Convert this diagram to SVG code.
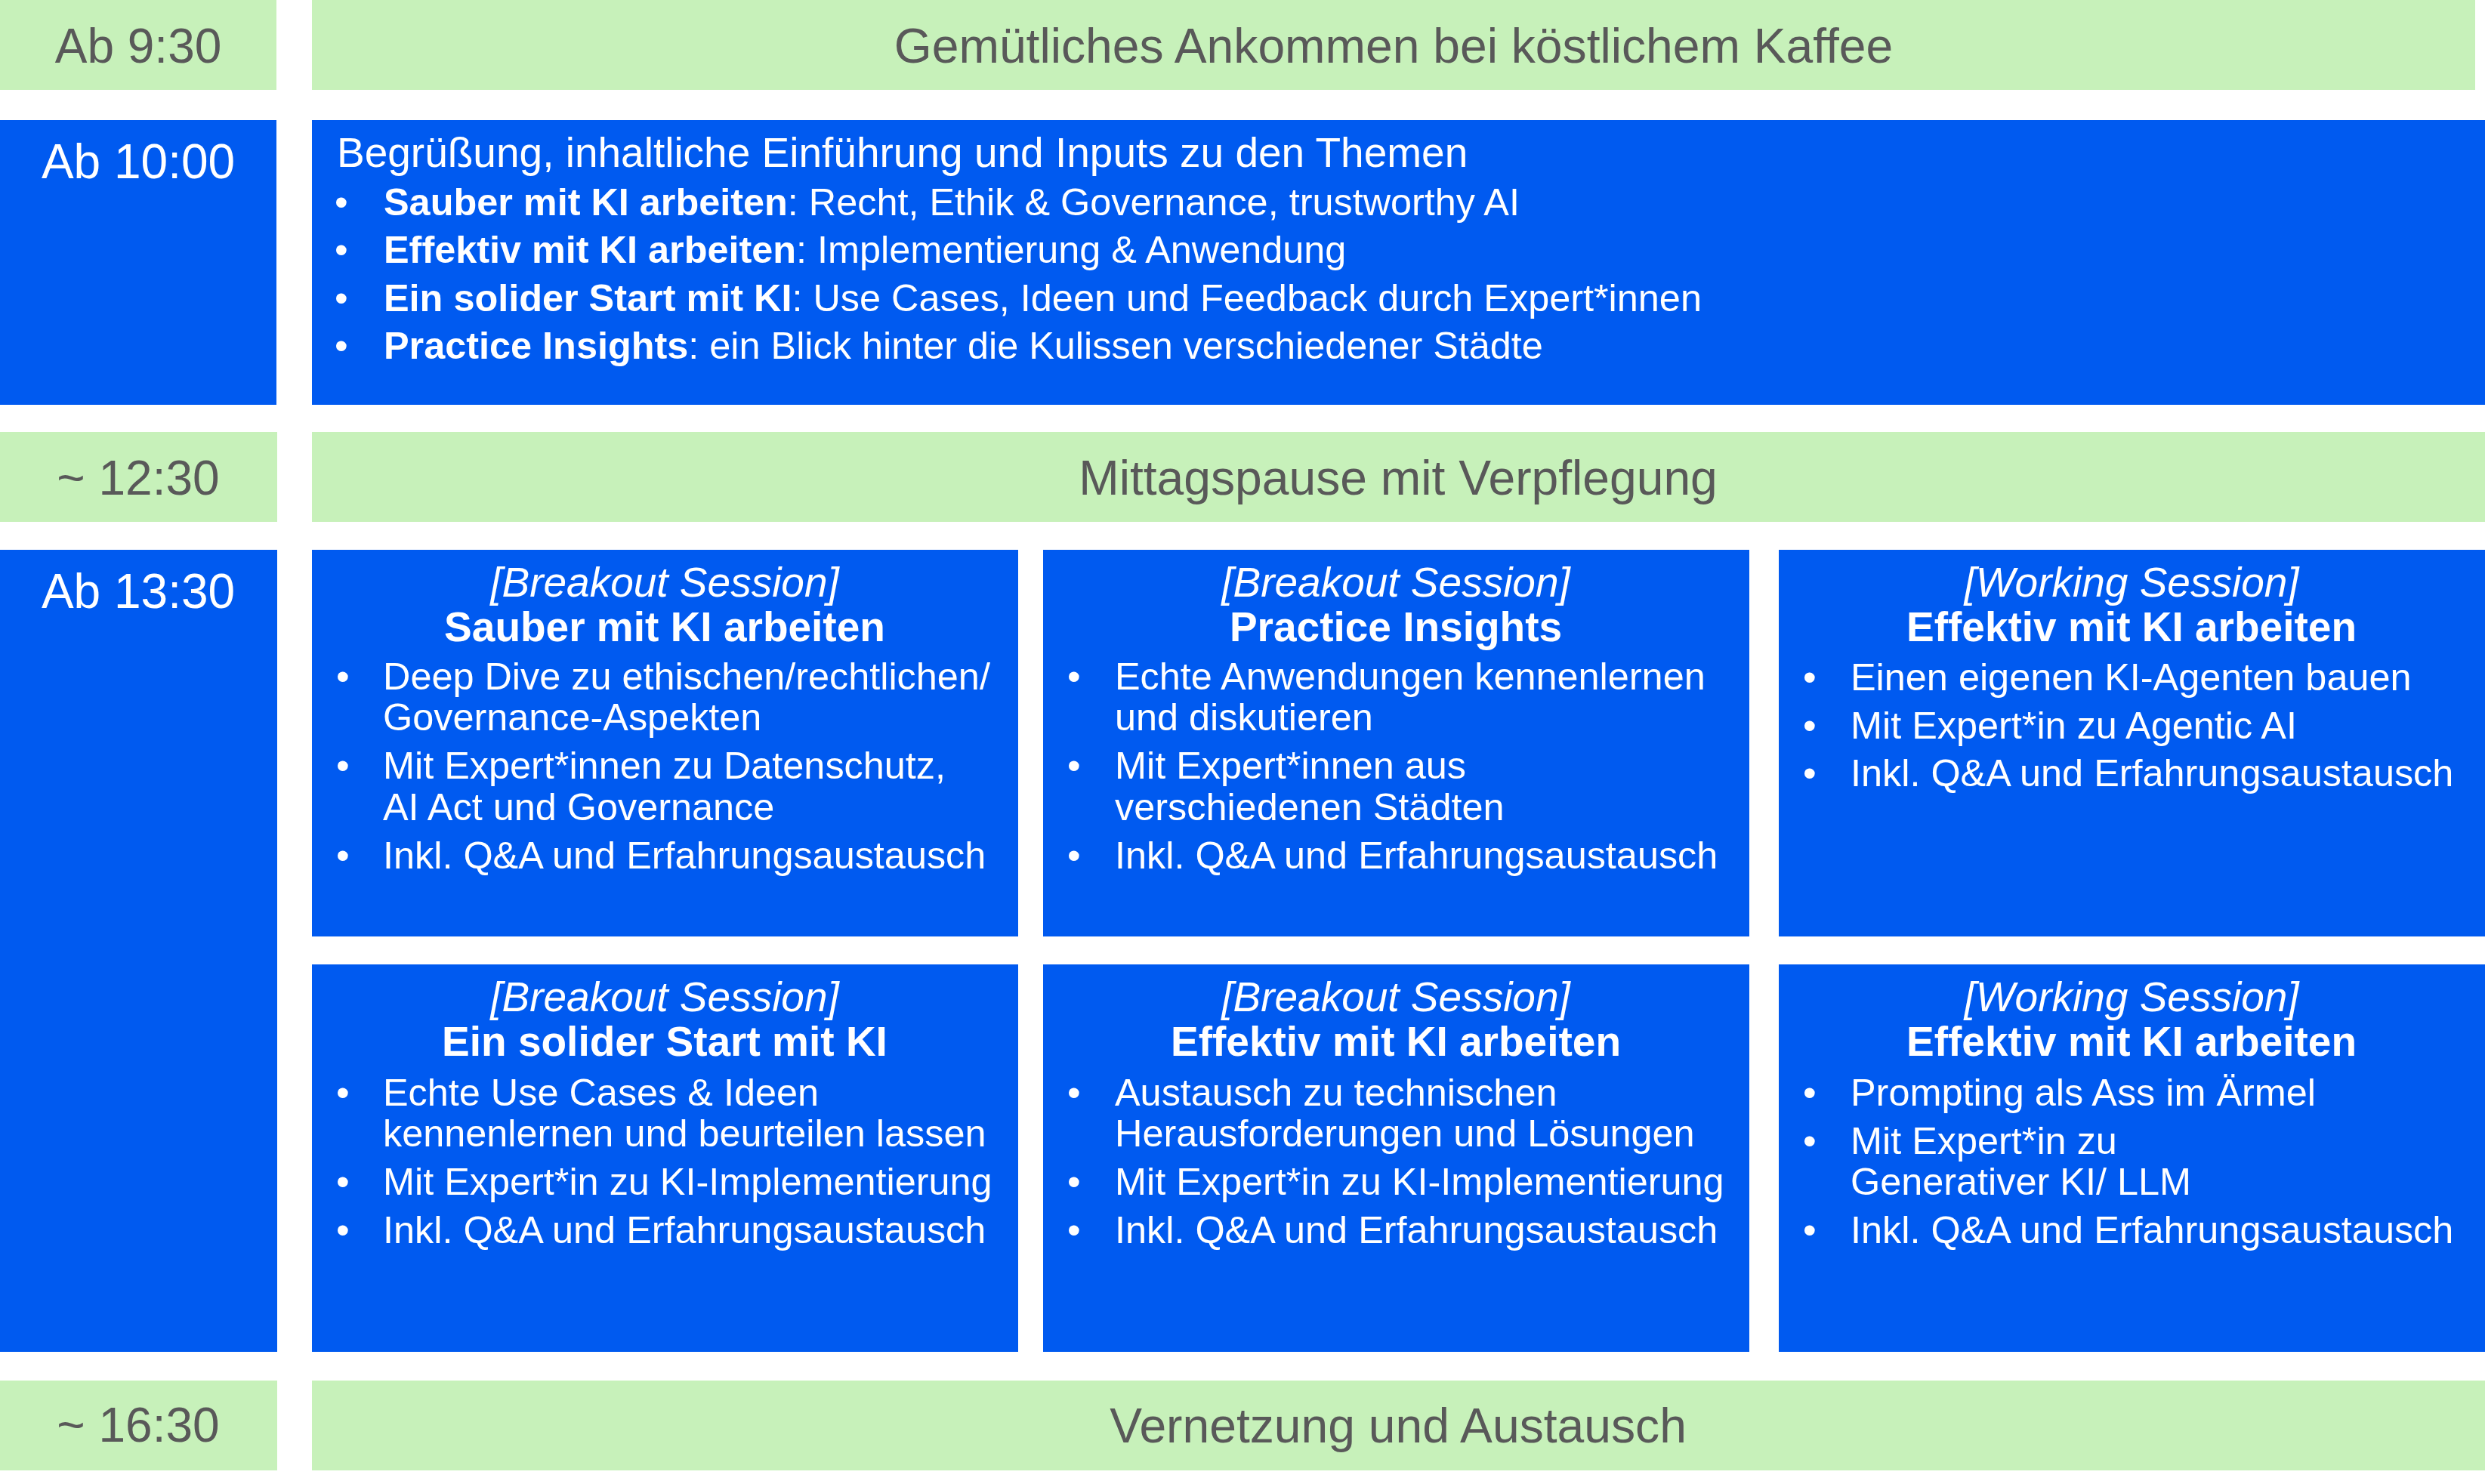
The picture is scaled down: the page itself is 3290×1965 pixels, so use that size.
<svg xmlns="http://www.w3.org/2000/svg" width="3290" height="1965" viewBox="0 0 3290 1965">
<style>
  text { font-family: "Liberation Sans", Arial, sans-serif; }
  .g { fill: #C7F1BA; }
  .b { fill: #005AF0; }
  .time-g { font-size: 64px; fill: #595959; text-anchor: middle; }
  .time-b { font-size: 64px; fill: #FFFFFF; text-anchor: middle; }
  .head-g { font-size: 64.2px; fill: #595959; text-anchor: middle; }
  .intro { font-size: 55px; fill: #FFFFFF; }
  .txt { font-size: 50.4px; fill: #FFFFFF; }
  .bold { font-weight: bold; }
  .kind { font-size: 55px; font-style: italic; fill: #FFFFFF; text-anchor: middle; }
  .title { font-size: 55px; font-weight: bold; fill: #FFFFFF; text-anchor: middle; }
</style>
<rect width="3290" height="1965" fill="#FFFFFF"/>

<g id="row-0930">
  <rect class="g" x="0" y="0" width="366" height="119"/>
  <text class="time-g" x="183" y="83">Ab 9:30</text>
  <rect class="g" x="413" y="0" width="2864" height="119"/>
  <text class="head-g" x="1845" y="83">Gemütliches Ankommen bei köstlichem Kaffee</text>
</g>

<g id="row-1000">
  <rect class="b" x="0" y="159" width="366" height="377"/>
  <text class="time-b" x="183" y="236">Ab 10:00</text>
  <rect class="b" x="413" y="159" width="2877" height="377"/>
  <text class="intro" x="446" y="221">Begrüßung, inhaltliche Einführung und Inputs zu den Themen</text>
  <text class="txt" x="443" y="285">•</text>
  <text class="txt" x="508" y="285"><tspan class="bold">Sauber mit KI arbeiten</tspan>: Recht, Ethik &amp; Governance, trustworthy AI</text>
  <text class="txt" x="443" y="348">•</text>
  <text class="txt" x="508" y="348"><tspan class="bold">Effektiv mit KI arbeiten</tspan>: Implementierung &amp; Anwendung</text>
  <text class="txt" x="443" y="412">•</text>
  <text class="txt" x="508" y="412"><tspan class="bold">Ein solider Start mit KI</tspan>: Use Cases, Ideen und Feedback durch Expert*innen</text>
  <text class="txt" x="443" y="475">•</text>
  <text class="txt" x="508" y="475"><tspan class="bold">Practice Insights</tspan>: ein Blick hinter die Kulissen verschiedener Städte</text>
</g>

<g id="row-1230">
  <rect class="g" x="0" y="572" width="367" height="119"/>
  <text class="time-g" x="183" y="655">~ 12:30</text>
  <rect class="g" x="413" y="572" width="2877" height="119"/>
  <text class="head-g" x="1851" y="655">Mittagspause mit Verpflegung</text>
</g>

<g id="row-1330">
  <rect class="b" x="0" y="728" width="367" height="1062"/>
  <text class="time-b" x="183" y="805">Ab 13:30</text>
</g>

<g id="session-sauber">
  <rect class="b" x="413" y="728" width="935" height="512"/>
  <text class="kind" x="880" y="790">[Breakout Session]</text>
  <text class="title" x="880" y="849">Sauber mit KI arbeiten</text>
  <text class="txt" x="445" y="913">•</text>
  <text class="txt" x="507" y="913">Deep Dive zu ethischen/rechtlichen/</text>
  <text class="txt" x="507" y="967">Governance-Aspekten</text>
  <text class="txt" x="445" y="1031">•</text>
  <text class="txt" x="507" y="1031">Mit Expert*innen zu Datenschutz,</text>
  <text class="txt" x="507" y="1086">AI Act und Governance</text>
  <text class="txt" x="445" y="1150">•</text>
  <text class="txt" x="507" y="1150">Inkl. Q&amp;A und Erfahrungsaustausch</text>
</g>

<g id="session-practice">
  <rect class="b" x="1381" y="728" width="935" height="512"/>
  <text class="kind" x="1848" y="790">[Breakout Session]</text>
  <text class="title" x="1848" y="849">Practice Insights</text>
  <text class="txt" x="1413" y="913">•</text>
  <text class="txt" x="1476" y="913">Echte Anwendungen kennenlernen</text>
  <text class="txt" x="1476" y="967">und diskutieren</text>
  <text class="txt" x="1413" y="1031">•</text>
  <text class="txt" x="1476" y="1031">Mit Expert*innen aus</text>
  <text class="txt" x="1476" y="1086">verschiedenen Städten</text>
  <text class="txt" x="1413" y="1150">•</text>
  <text class="txt" x="1476" y="1150">Inkl. Q&amp;A und Erfahrungsaustausch</text>
</g>

<g id="session-agentic">
  <rect class="b" x="2355" y="728" width="935" height="512"/>
  <text class="kind" x="2822" y="790">[Working Session]</text>
  <text class="title" x="2822" y="849">Effektiv mit KI arbeiten</text>
  <text class="txt" x="2387" y="914">•</text>
  <text class="txt" x="2450" y="914">Einen eigenen KI-Agenten bauen</text>
  <text class="txt" x="2387" y="978">•</text>
  <text class="txt" x="2450" y="978">Mit Expert*in zu Agentic AI</text>
  <text class="txt" x="2387" y="1041">•</text>
  <text class="txt" x="2450" y="1041">Inkl. Q&amp;A und Erfahrungsaustausch</text>
</g>

<g id="session-start">
  <rect class="b" x="413" y="1277" width="935" height="513"/>
  <text class="kind" x="880" y="1339">[Breakout Session]</text>
  <text class="title" x="880" y="1398">Ein solider Start mit KI</text>
  <text class="txt" x="445" y="1464">•</text>
  <text class="txt" x="507" y="1464">Echte Use Cases &amp; Ideen</text>
  <text class="txt" x="507" y="1518">kennenlernen und beurteilen lassen</text>
  <text class="txt" x="445" y="1582">•</text>
  <text class="txt" x="507" y="1582">Mit Expert*in zu KI-Implementierung</text>
  <text class="txt" x="445" y="1646">•</text>
  <text class="txt" x="507" y="1646">Inkl. Q&amp;A und Erfahrungsaustausch</text>
</g>

<g id="session-effektiv">
  <rect class="b" x="1381" y="1277" width="935" height="513"/>
  <text class="kind" x="1848" y="1339">[Breakout Session]</text>
  <text class="title" x="1848" y="1398">Effektiv mit KI arbeiten</text>
  <text class="txt" x="1413" y="1464">•</text>
  <text class="txt" x="1476" y="1464">Austausch zu technischen</text>
  <text class="txt" x="1476" y="1518">Herausforderungen und Lösungen</text>
  <text class="txt" x="1413" y="1582">•</text>
  <text class="txt" x="1476" y="1582">Mit Expert*in zu KI-Implementierung</text>
  <text class="txt" x="1413" y="1646">•</text>
  <text class="txt" x="1476" y="1646">Inkl. Q&amp;A und Erfahrungsaustausch</text>
</g>

<g id="session-prompting">
  <rect class="b" x="2355" y="1277" width="935" height="513"/>
  <text class="kind" x="2822" y="1339">[Working Session]</text>
  <text class="title" x="2822" y="1398">Effektiv mit KI arbeiten</text>
  <text class="txt" x="2387" y="1464">•</text>
  <text class="txt" x="2450" y="1464">Prompting als Ass im Ärmel</text>
  <text class="txt" x="2387" y="1528">•</text>
  <text class="txt" x="2450" y="1528">Mit Expert*in zu</text>
  <text class="txt" x="2450" y="1582">Generativer KI/ LLM</text>
  <text class="txt" x="2387" y="1646">•</text>
  <text class="txt" x="2450" y="1646">Inkl. Q&amp;A und Erfahrungsaustausch</text>
</g>

<g id="row-1630">
  <rect class="g" x="0" y="1828" width="367" height="119"/>
  <text class="time-g" x="183" y="1909">~ 16:30</text>
  <rect class="g" x="413" y="1828" width="2877" height="119"/>
  <text class="head-g" x="1851" y="1910">Vernetzung und Austausch</text>
</g>

<g id="connectors"></g>
</svg>
